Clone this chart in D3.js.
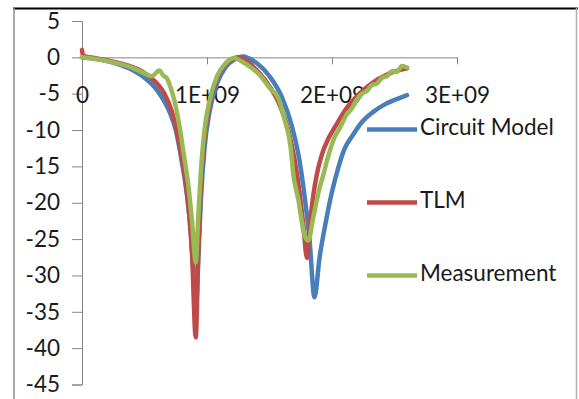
<!DOCTYPE html>
<html>
<head>
<meta charset="utf-8">
<script src="https://cdn.jsdelivr.net/npm/d3@7"></script>
<style>
  html, body { margin: 0; padding: 0; background: #fff; }
  svg { display: block; font-family: Lato, "Open Sans", sans-serif; }
</style>
</head>
<body>
<div id="chart"></div>
<script>
// frequency in GHz (axis shows Hz), S-parameter in dB
const circuitFreq = [0, 0.1, 0.2, 0.3, 0.4, 0.5, 0.6, 0.7, 0.75, 0.8, 0.84, 0.87, 0.89, 0.91, 0.93, 0.95, 0.98, 1.02, 1.08, 1.15, 1.22, 1.29, 1.33, 1.4, 1.5, 1.6, 1.68, 1.74, 1.78, 1.82, 1.86, 1.9, 1.95, 2.0, 2.05, 2.1, 2.17, 2.24, 2.33, 2.43, 2.54, 2.6];
const circuitVals = [0, -0.2, -0.5, -1.0, -1.7, -2.8, -4.5, -7.5, -10, -14.5, -19, -24, -29, -35, -28, -20, -12.5, -7.5, -3.6, -1.3, -0.3, 0.1, -0.1, -0.8, -2.6, -5.5, -9.5, -14.2, -19, -25, -33, -27.6, -22.7, -18.5, -15.2, -12.6, -10.6, -8.9, -7.5, -6.4, -5.6, -5.2];

const tlmFreq = [0, 0.01, 0.1, 0.2, 0.3, 0.4, 0.46, 0.52, 0.6, 0.66, 0.72, 0.78, 0.82, 0.86, 0.88, 0.91, 0.93, 0.95, 0.98, 1.02, 1.08, 1.15, 1.22, 1.25, 1.3, 1.42, 1.5, 1.58, 1.65, 1.7, 1.74, 1.77, 1.8, 1.82, 1.85, 1.88, 1.92, 1.97, 2.03, 2.1, 2.22, 2.3, 2.46, 2.6];
const tlmVals = [1.0, 0.2, -0.1, -0.4, -0.8, -1.3, -1.75, -2.4, -3.6, -5, -7.5, -12, -16, -22, -27, -38.5, -27, -18, -11, -6.5, -2.8, -0.9, -0.1, 0, -0.3, -2.2, -4, -6.5, -10, -14, -18.5, -23, -27.6, -23.5, -19, -16, -13.3, -11.2, -9.4, -7.4, -5.0, -3.8, -2.2, -1.5];

const measFreq = [0, 0.1, 0.2, 0.3, 0.4, 0.5, 0.56, 0.6, 0.62, 0.65, 0.68, 0.71, 0.74, 0.78, 0.82, 0.85, 0.88, 0.91, 0.93, 0.95, 0.98, 1.02, 1.08, 1.15, 1.22, 1.25, 1.3, 1.42, 1.5, 1.57, 1.62, 1.67, 1.69, 1.73, 1.78, 1.81, 1.85, 1.9, 1.93, 1.96, 2.02, 2.06, 2.12, 2.16, 2.2, 2.24, 2.28, 2.32, 2.36, 2.4, 2.44, 2.48, 2.52, 2.56, 2.6];
const measVals = [0, -0.2, -0.5, -0.9, -1.4, -2.2, -2.6, -2.0, -1.8, -2.5, -2.9, -4.2, -6, -9.5, -14, -17.5, -22.5, -28.2, -22, -16, -10, -6, -2.6, -0.8, -0.1, -0.3, -0.8, -2.4, -4.2, -5.6, -8.5, -12.5, -16, -19.5, -24.5, -25.2, -22, -18, -16.2, -14.2, -11, -9.8, -7.8, -7.0, -5.8, -5.0, -4.6, -3.8, -3.6, -2.8, -2.6, -1.9, -2.0, -1.2, -1.4];

const yTicks = [5, 0, -5, -10, -15, -20, -25, -30, -35, -40, -45];
const xTicks = [0, 1, 2, 3];
const xTickLabels = ["0", "1E+09", "2E+09", "3E+09"];

const seriesNames = ["Circuit Model", "TLM", "Measurement"];
const seriesColors = ["#4a7ebb", "#be4b48", "#98b954"];

const W = 579, H = 399;
const fontSize = 22.5;
const svg = d3.select("#chart").append("svg")
  .attr("width", W).attr("height", H);

// outer frame (cropped chart border)
svg.append("line").attr("x1", 13).attr("x2", 578).attr("y1", 8.5).attr("y2", 8.5)
  .attr("stroke", "#000").attr("stroke-width", 2);
svg.append("line").attr("x1", 14).attr("x2", 14).attr("y1", 8).attr("y2", H)
  .attr("stroke", "#8c8c8c").attr("stroke-width", 1.5);
svg.append("line").attr("x1", 576.5).attr("x2", 576.5).attr("y1", 8).attr("y2", H)
  .attr("stroke", "#b0b0b0").attr("stroke-width", 1.5);

const x = d3.scaleLinear().domain([0, 3]).range([82, 457]);
const y = d3.scaleLinear().domain([5, -45]).range([21, 384.5]);

// y axis
const yAxis = svg.append("g").attr("transform", "translate(82,0)")
  .call(d3.axisLeft(y).tickValues(yTicks).tickSize(10).tickPadding(12).tickFormat(d => d));
yAxis.selectAll("path.domain, .tick line").attr("stroke", "#868686");
yAxis.selectAll("text").attr("font-size", fontSize).attr("fill", "#1a1a1a")
  .attr("font-family", "Lato, sans-serif");

// x axis crossing at 0
const xAxis = svg.append("g").attr("transform", `translate(0,${y(0)})`)
  .call(d3.axisBottom(x).tickValues(xTicks).tickSize(7).tickSizeOuter(0).tickPadding(0)
    .tickFormat((d, i) => xTickLabels[i]));
xAxis.selectAll("path.domain, .tick line").attr("stroke", "#868686");
xAxis.selectAll(".tick line").filter(d => d === 0).remove();
xAxis.selectAll("text").attr("font-size", fontSize).attr("fill", "#1a1a1a")
  .attr("font-family", "Lato, sans-serif")
  .attr("dy", null).attr("y", 40).attr("dominant-baseline", "middle");

const line = d3.line()
  .x(d => x(d[0]))
  .y(d => y(d[1]))
  .curve(d3.curveMonotoneX);

const series = [
  d3.zip(circuitFreq, circuitVals),
  d3.zip(tlmFreq, tlmVals),
  d3.zip(measFreq, measVals)
];

series.forEach((s, i) => {
  svg.append("path")
    .datum(s)
    .attr("fill", "none")
    .attr("stroke", seriesColors[i])
    .attr("stroke-width", 4.5)
    .attr("stroke-linejoin", "round")
    .attr("stroke-linecap", "round")
    .attr("d", line);
});

// legend
const legendY = [129.5, 202.5, 275.5];
const legend = svg.append("g");
seriesNames.forEach((name, i) => {
  legend.append("line")
    .attr("x1", 367).attr("x2", 417)
    .attr("y1", legendY[i]).attr("y2", legendY[i])
    .attr("stroke", seriesColors[i]).attr("stroke-width", 4.5);
  legend.append("text")
    .attr("x", 420).attr("y", legendY[i])
    .attr("dominant-baseline", "middle")
    .attr("font-size", fontSize).attr("fill", "#1a1a1a")
    .text(name);
});
</script>
</body>
</html>
